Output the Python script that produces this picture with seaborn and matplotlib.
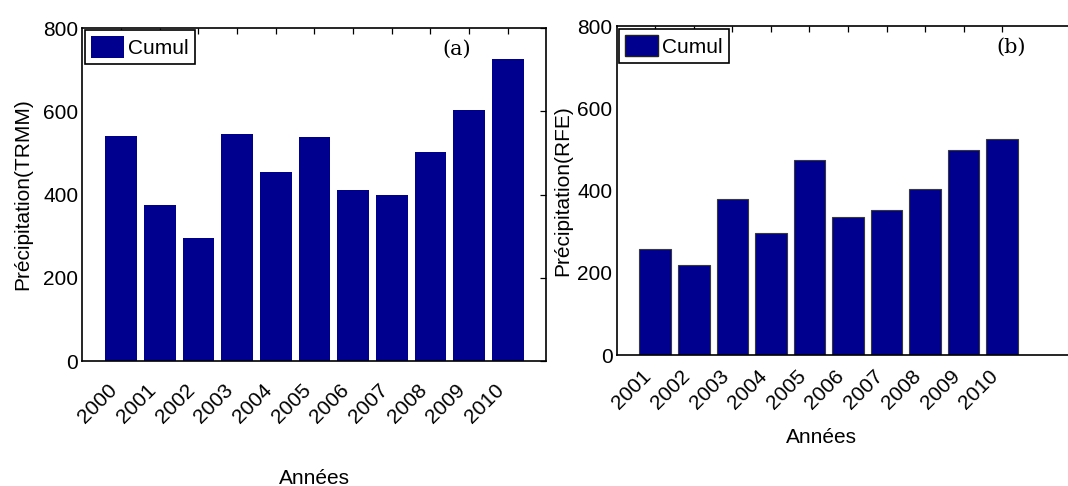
import pandas as pd
import seaborn as sns
import matplotlib.pyplot as plt
from matplotlib.patches import Patch

years_trmm = ["2000", "2001", "2002", "2003", "2004", "2005", "2006", "2007", "2008", "2009", "2010"]
cumul_trmm = [541, 376, 295, 546, 453, 539, 410, 400, 503, 603, 725]

years_rfe = ["2001", "2002", "2003", "2004", "2005", "2006", "2007", "2008", "2009", "2010"]
cumul_rfe = [259, 219, 379, 296, 475, 335, 354, 404, 500, 526]

bar_color = "#00008F"

sns.set_style("white")
plt.rcParams["font.family"] = ["Liberation Sans", "DejaVu Sans"]
plt.rcParams["font.size"] = 15
plt.rcParams["text.color"] = "black"
plt.rcParams["axes.labelcolor"] = "black"
plt.rcParams["xtick.color"] = "black"
plt.rcParams["ytick.color"] = "black"

fig = plt.figure(figsize=(10.68, 4.86), dpi=100)
ax1 = fig.add_axes([0.0772, 0.2572, 0.4345, 0.685])
ax2 = fig.add_axes([0.5774, 0.2695, 0.4332, 0.676])

df_a = pd.DataFrame({"Année": years_trmm, "Cumul": cumul_trmm})
df_b = pd.DataFrame({"Année": years_rfe, "Cumul": cumul_rfe})

sns.barplot(data=df_a, x="Année", y="Cumul", ax=ax1, color=bar_color,
            saturation=1, width=0.82, linewidth=0)
sns.barplot(data=df_b, x="Année", y="Cumul", ax=ax2, color=bar_color,
            saturation=1, width=0.82, edgecolor="#3a3a3a", linewidth=0.8)

# (axe, ylabel, repère, x du repère, pad des années, écart ylabel, écart xlabel, x xlabel, bord légende)
panels = [
    (ax1, "Précipitation(TRMM)", "(a)", 8.68, 14, 60, 117, 0.5, None),
    (ax2, "Précipitation(RFE)", "(b)", 9.23, 8, 54, 82, 0.4437, "#222222"),
]

for ax, ylab, tag, tag_x, lab_pad, ylab_off, xlab_off, xlab_x, leg_edge in panels:
    ax.set_xlim(-1, 11)
    ax.set_ylim(0, 800)
    ax.set_yticks([0, 200, 400, 600, 800])
    for s in ax.spines.values():
        s.set_color("black")
        s.set_linewidth(1.2)
    ax.tick_params(axis="both", direction="in", length=4, width=0.9,
                   top=True, right=True, labelsize=15, pad=3)
    for lbl in ax.get_xticklabels():
        lbl.set_rotation(45)
        lbl.set_ha("right")
        lbl.set_va("top")
    ax.tick_params(axis="x", pad=lab_pad)
    ax.set_ylabel(ylab, fontsize=15, va="center")
    ax.set_xlabel("Années", fontsize=15, va="center")
    bb = ax.get_position()
    w_px = bb.width * 1068
    h_px = bb.height * 486
    ax.yaxis.set_label_coords(-ylab_off / w_px, 0.5)
    ax.xaxis.set_label_coords(xlab_x, -xlab_off / h_px)
    ax.text(tag_x, 750, tag, ha="center", va="center", fontsize=15,
            family="DejaVu Serif")
    handle = Patch(facecolor=bar_color,
                   edgecolor=leg_edge if leg_edge else bar_color,
                   linewidth=1 if leg_edge else 0, label="Cumul")
    leg = ax.legend(handles=[handle], loc="upper left", fontsize=15,
                    handlelength=1.6, handleheight=1.2, handletextpad=0.2,
                    borderpad=0.3, borderaxespad=0.1, fancybox=False,
                    framealpha=1)
    leg.get_frame().set_edgecolor("black")
    leg.get_frame().set_linewidth(1.2)

fig.savefig("out.png", dpi=100)
